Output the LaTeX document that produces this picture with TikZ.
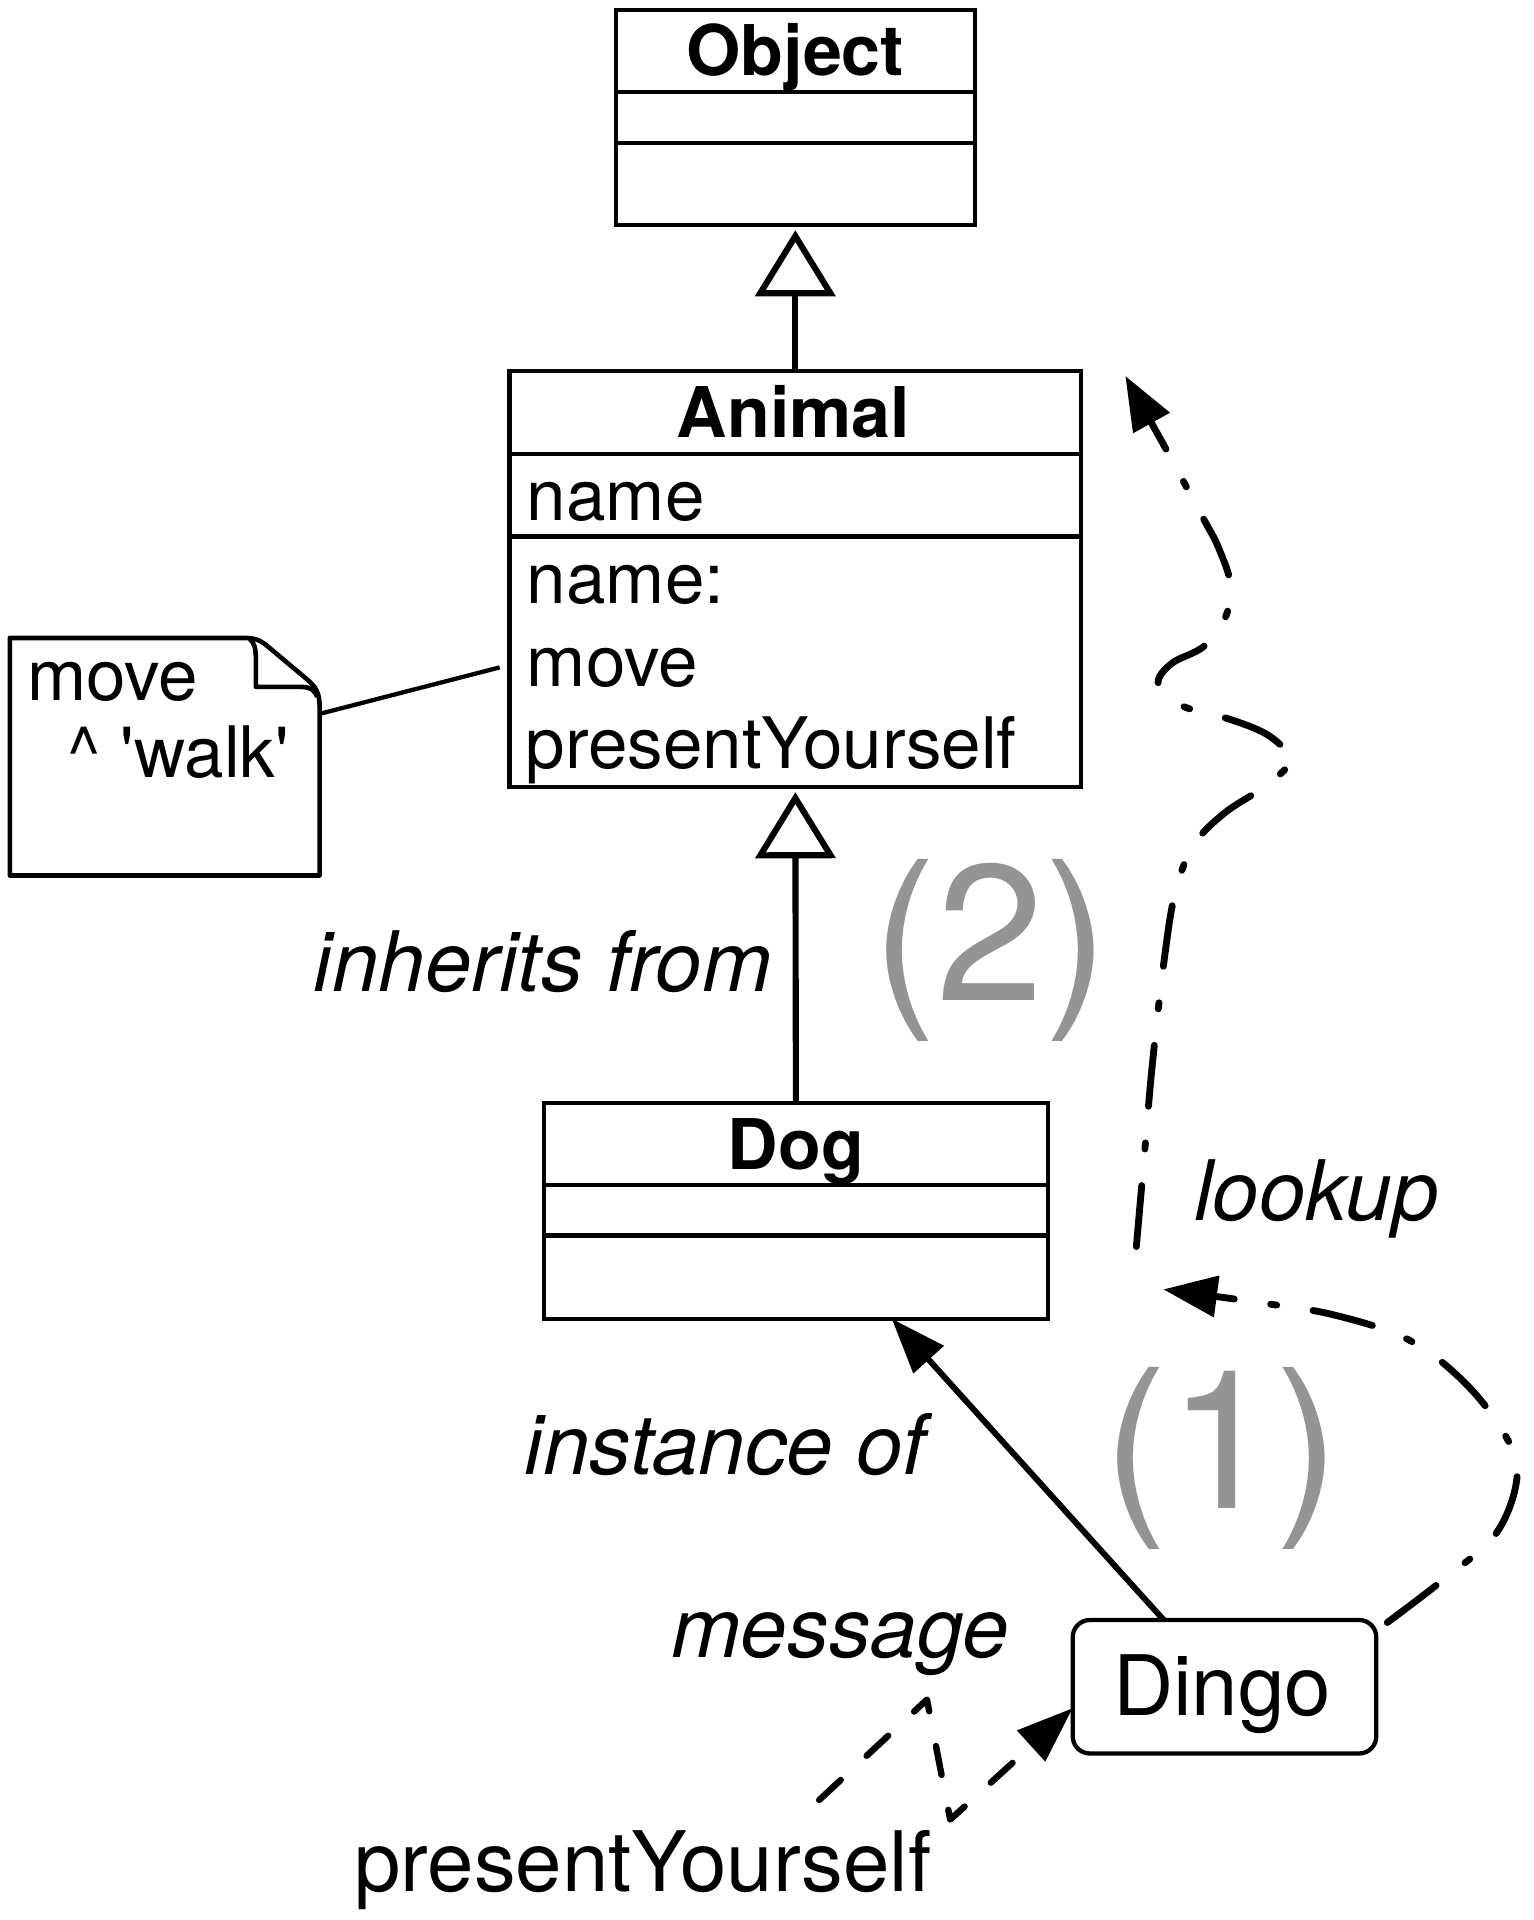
\documentclass[tikz,border=0pt]{standalone}
\usepackage{fontspec}
\setmainfont{TeX Gyre Heros}
\usetikzlibrary{arrows.meta,calc}
\definecolor{numgray}{RGB}{148,148,148}
\begin{document}
\begin{tikzpicture}[x=0.02cm, y=-0.02cm,
  classbox/.style={draw, line width=0.07cm, inner sep=0pt, outer sep=0pt},
  divider/.style={line width=0.07cm},
  titletxt/.style={inner sep=0pt, font={\fontsize{32.5pt}{38pt}\selectfont\bfseries}},
  fieldtxt/.style={inner sep=0pt, anchor=base west, font={\fontsize{33pt}{38pt}\selectfont}},
  lbltxt/.style={inner sep=0pt, anchor=base west, font={\fontsize{38.8pt}{45pt}\selectfont\itshape}},
  plaintxt/.style={inner sep=0pt, font={\fontsize{38.8pt}{45pt}\selectfont}},
  bignum/.style={inner sep=0pt, anchor=base, text=numgray, font={\fontsize{90pt}{100pt}\selectfont}},
  objbox/.style={draw, line width=0.07cm, rounded corners=0.28cm, inner sep=0pt, outer sep=0pt},
  gentri/.style={line width=0.1cm, -{Triangle[open,length=1.08cm,width=1.3cm]}, shorten >=0.08cm},
  instarrow/.style={line width=0.097cm, -{Triangle[length=0.9cm,width=0.65cm]}},
  lookuparrow/.style={line width=0.112cm, line cap=round,
    dash pattern=on 1.0cm off 0.6cm on 0.1cm off 0.6cm,
    -{Triangle[length=0.88cm,width=0.66cm]}},
  msgarrow/.style={line width=0.105cm, line cap=round, line join=round,
    dash pattern=on 0.48cm off 0.58cm,
    -{Triangle[length=0.92cm,width=0.66cm]}},
  notelink/.style={line width=0.07cm},
  noteline/.style={line width=0.075cm, line join=round}
]
\fill[white] (0,0) rectangle (1252,1568);
\useasboundingbox (0,0) rectangle (1252,1568);

% ---- class Object ----
\node[classbox, minimum width=5.86cm, minimum height=3.52cm] (object) at (649.5,96) {};
\draw[divider] ($(object.north west)+(0,67)$) -- ($(object.north east)+(0,67)$);
\draw[divider] ($(object.north west)+(0,109)$) -- ($(object.north east)+(0,109)$);
\node[titletxt, anchor=base] (objname) at (649.5,62) {Object};

% ---- class Animal ----
\node[classbox, minimum width=9.34cm, minimum height=6.8cm] (animal) at (649.5,473) {};
\draw[divider] ($(animal.north west)+(0,68)$) -- ($(animal.north east)+(0,68)$);
\draw[divider] ($(animal.north west)+(0,135)$) -- ($(animal.north east)+(0,135)$);
\node[titletxt, anchor=base] (animalname) at (648,357) {Animal};
\node[fieldtxt] (attrname) at (430,425) {name};
\node[fieldtxt] (mname) at (430,493) {name:};
\node[fieldtxt] (mmove) at (430,561) {move};
\node[fieldtxt] (mpresent) at (429,628) {presentYourself};

% ---- class Dog ----
\node[classbox, minimum width=8.24cm, minimum height=3.52cm] (dog) at (650,989) {};
\draw[divider] ($(dog.north west)+(0,67)$) -- ($(dog.north east)+(0,67)$);
\draw[divider] ($(dog.north west)+(0,108)$) -- ($(dog.north east)+(0,108)$);
\node[titletxt, anchor=base] (dogname) at (650,955) {Dog};

% ---- note attached to Animal ----
\node[inner sep=0pt, outer sep=0pt, minimum width=5.06cm, minimum height=3.88cm] (note) at (134.5,618) {};
\draw[noteline] (8,521) -- (200,521) .. controls (209,521) and (213,523) .. (220,529)
  -- (251,555) .. controls (258,561) and (261,566) .. (261,577) -- (261,715) -- (8,715) -- cycle;
\draw[noteline] (204,522) .. controls (208,525) and (209,530) .. (209,540) -- (209,561)
  -- (246,561) .. controls (254,561) and (257,564) .. (259,569);
\node[fieldtxt] (notel1) at (22,572) {move};
\node[fieldtxt] (notel2) at (55,635) {\textasciicircum\ \textquotesingle walk\textquotesingle};
\coordinate (nl1) at ($(note.north east)+(0,62)$);
\coordinate (nl2) at ($(animal.north west)+(-8,242)$);
\draw[notelink] (nl1) -- (nl2);

% ---- object Dingo ----
\node[objbox, minimum width=4.96cm, minimum height=2.18cm] (dingo) at (1000,1377.5) {};
\node[plaintxt, anchor=base] (dingoname) at (998,1401) {Dingo};

% ---- generalisations ----
\draw[gentri] (animal.north) -- (object.south);
\draw[gentri] (dog.north) -- (animal.south);
\node[lbltxt] (inh) at (256,810) {inherits from};

% ---- instance of ----
\coordinate (instS) at ($(dingo.north west)!0.3!(dingo.north east)$);
\coordinate (instE) at ($(dog.south west)!0.69!(dog.south east)$);
\draw[instarrow] (instS) -- (instE);
\node[lbltxt] (inst) at (428,1204) {instance of};

% ---- message sent to Dingo ----
\node[plaintxt, anchor=base west] (pyself) at (289,1545) {presentYourself};
\node[lbltxt] (msg) at (548,1354) {message};
\coordinate (msgS) at (669,1470);
\coordinate (msgA) at (757,1388);
\coordinate (msgB) at (776,1486);
\coordinate (msgE) at ($(dingo.south west)!0.34!(dingo.north west)$);
\draw[msgarrow] (msgS) -- (msgA) -- (msgB) -- (msgE);

% ---- lookup (1): Dingo to its class ----
\coordinate (lk1s) at ($(dingo.north east)+(9,2)$);
\coordinate (lk1e) at (950,1053);
\draw[lookuparrow] plot[smooth, tension=0.6] coordinates {(lk1s) (1180,1289) (1222,1252)
  (1239,1205) (1228,1170) (1195,1128) (1150,1094) (1090,1074) (1030,1064) (lk1e)};
\node[bignum] (num1) at (998,1232) {(1)};

% ---- lookup (2): up the hierarchy ----
\coordinate (lk2s) at (928,1018);
\coordinate (lk2e) at (919,307);
\draw[lookuparrow] plot[smooth, tension=0.6] coordinates {(lk2s) (934,950) (941,870)
  (951,782) (960,728) (975,690) (1000,664) (1035,641) (1058,620)}
  -- plot[smooth, tension=0.6] coordinates {(1058,620) (1035,600) (1003,587) (969,578)
  (951,567) (946,555) (958,541) (983,528) (1000,506) (1005,478) (995,447) (983,424)
  (968,396) (954,370) (lk2e)};
\node[lbltxt] (lookup) at (975,997) {lookup};
\node[bignum] (num2) at (809,817) {(2)};

\end{tikzpicture}
\end{document}
